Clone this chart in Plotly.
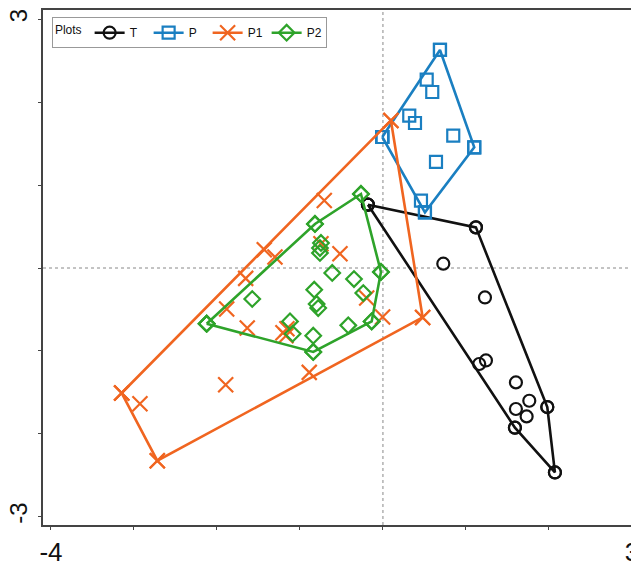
import plotly.graph_objects as go

# group T (black circles)
t_x = [-0.181, 1.120, 0.727, 1.229, 1.241, 1.160, 1.602, 1.763, 1.602, 1.731, 1.980, 1.590, 2.072]
t_y = [0.764, 0.490, 0.052, -0.355, -1.115, -1.158, -1.380, -1.601, -1.701, -1.790, -1.677, -1.926, -2.466]

# group P (blue squares)
p_x = [0.687, 0.527, 0.594, 0.317, 0.386, -0.008, 0.847, 1.100, 0.639, 0.458, 0.506]
p_y = [2.630, 2.271, 2.123, 1.837, 1.749, 1.580, 1.596, 1.455, 1.279, 0.812, 0.671]

# group P1 (orange crosses)
p1_x = [-0.707, -0.747, -0.518, -1.430, -1.301, -1.654, -1.883, -1.635, -1.205, -1.157,
        -1.169, -0.196, -0.004, -0.888, -1.895, -3.148, -2.928, -2.719, 0.096, 0.478]
p1_y = [0.815, 0.293, 0.172, 0.221, 0.133, -0.125, -0.495, -0.724, -0.780, -0.732,
        -0.817, -0.362, -0.591, -1.259, -1.408, -1.508, -1.637, -2.324, 1.780, -0.596]

# group P2 (green diamonds)
p2_x = [-0.265, -0.819, -0.747, -0.759, -0.759, -0.024, -0.611, -0.349, -0.828, -1.575,
        -0.237, -0.799, -0.780, -2.124, -1.120, -1.088, -0.418, -0.136, -0.840, -0.840]
p2_y = [0.893, 0.531, 0.302, 0.241, 0.181, -0.048, -0.060, -0.133, -0.262, -0.374,
        -0.302, -0.434, -0.483, -0.672, -0.644, -0.793, -0.692, -0.644, -0.817, -1.013]

x_ticks = [-4, -3, -2, -1, 0, 1, 2, 3]
x_labels = ["-4", "", "", "", "", "", "", "3"]
y_ticks = [-3, -2, -1, 0, 1, 2, 3]
y_labels = ["-3", "", "", "", "", "", "3"]


def hull(xs, ys):
    pts = sorted(set(zip(xs, ys)))

    def cross(o, a, b):
        return (a[0] - o[0]) * (b[1] - o[1]) - (a[1] - o[1]) * (b[0] - o[0])

    lower, upper = [], []
    for p in pts:
        while len(lower) >= 2 and cross(lower[-2], lower[-1], p) <= 0:
            lower.pop()
        lower.append(p)
    for p in reversed(pts):
        while len(upper) >= 2 and cross(upper[-2], upper[-1], p) <= 0:
            upper.pop()
        upper.append(p)
    h = lower[:-1] + upper[:-1]
    h.append(h[0])
    return [p[0] for p in h], [p[1] for p in h]


groups = [
    ("T", t_x, t_y, "#111111", "circle-open", 12),
    ("P", p_x, p_y, "#1a7fc1", "square-open", 12),
    ("P1", p1_x, p1_y, "#f06520", "x-thin-open", 15),
    ("P2", p2_x, p2_y, "#2ea32a", "diamond-open", 12),
]

fig = go.Figure()
for name, xs, ys, col, sym, sz in groups:
    mk = dict(symbol=sym, size=sz, color=col, line=dict(color=col, width=2.2))
    hx, hy = hull(xs, ys)
    fig.add_trace(go.Scatter(x=hx, y=hy, mode="lines+markers", name=name,
                             line=dict(color=col, width=2.6), marker=mk))
    fig.add_trace(go.Scatter(x=xs, y=ys, mode="markers", showlegend=False, marker=mk))

# dotted reference lines through the origin
fig.add_shape(type="line", xref="x", yref="paper", x0=0, x1=0, y0=0, y1=1,
              line=dict(color="#888", width=1, dash="dot"), layer="below")
fig.add_shape(type="line", xref="paper", yref="y", x0=0, x1=1, y0=0, y1=0,
              line=dict(color="#888", width=1, dash="dot"), layer="below")

# page body keeps its default 8px margin, so the figure is 8px smaller
fig.update_layout(
    width=631, height=554,
    margin=dict(l=35, r=0, t=2, b=37, autoexpand=False),
    plot_bgcolor="white", paper_bgcolor="white",
    font=dict(family="Liberation Sans, Arial", color="#111"),
    legend=dict(orientation="h", x=0.015, y=0.986, xanchor="left", yanchor="top",
                bordercolor="#999", borderwidth=1, font=dict(size=12),
                title=dict(text="Plots", side="left", font=dict(size=12)),
                itemwidth=30, tracegroupgap=0, entrywidth=14,
                entrywidthmode="pixels"),
    xaxis=dict(range=[-4.096, 3.085], tickvals=x_ticks, ticktext=x_labels,
               showgrid=False, zeroline=False, showline=True, mirror=True,
               linecolor="#444", linewidth=1.5, ticks="outside", ticklen=3,
               tickcolor="#444", tickfont=dict(size=26), ticklabelstandoff=0,
               ticklabeloverflow="allow", automargin=False),
    yaxis=dict(range=[-3.10, 3.112], tickvals=y_ticks, ticktext=y_labels,
               showgrid=False, zeroline=False, showline=True,
               linecolor="#444", linewidth=1.5, ticks="outside", ticklen=3,
               tickcolor="#444", tickfont=dict(size=24), tickangle=-90,
               ticklabelstandoff=2, ticklabeloverflow="allow", automargin=False),
)

fig.write_html("out.html")
